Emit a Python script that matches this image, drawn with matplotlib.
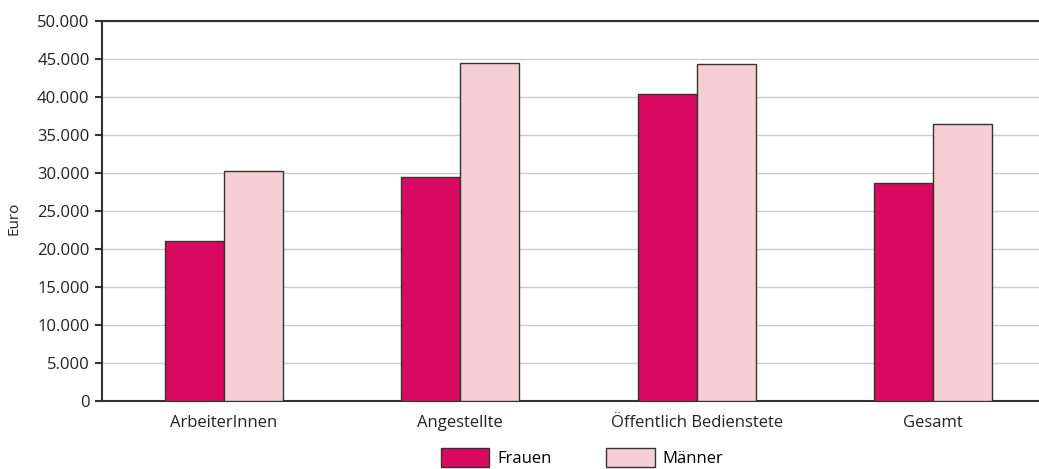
import numpy as np
import matplotlib.pyplot as plt
from matplotlib.ticker import FuncFormatter

# data
kategorien = ['ArbeiterInnen', 'Angestellte', 'Öffentlich Bedienstete', 'Gesamt']
frauen = [21100, 29500, 40400, 28700]
maenner = [30300, 44500, 44400, 36500]
serien = ['Frauen', 'Männer']
farben = ['#d9095f', '#f5cfd4']

plt.rcParams['font.family'] = ['Open Sans', 'DejaVu Sans']

W, H = 1039, 469
fig = plt.figure(figsize=(W / 100, H / 100), dpi=100)
ax = fig.add_axes([102 / W, 68 / H, 973 / W, 380 / H])

x = np.arange(len(kategorien))
bw = 0.25
ax.bar(x - bw / 2, frauen, bw, color=farben[0], edgecolor='#333333', linewidth=1, label=serien[0], zorder=3)
ax.bar(x + bw / 2, maenner, bw, color=farben[1], edgecolor='#333333', linewidth=1, label=serien[1], zorder=3)

ax.set_xlim(-0.516, 3.6)
ax.set_ylim(0, 50000)
ax.set_yticks(np.arange(0, 50001, 5000))
ax.yaxis.set_major_formatter(FuncFormatter(lambda v, p: f'{int(v):,}'.replace(',', '.')))
ax.set_xticks(x)
ax.set_xticklabels(kategorien)
ax.tick_params(axis='x', length=0, pad=10, labelsize=12, colors='#222222')
ax.tick_params(axis='y', length=5, width=1.5, color='#333333', pad=4, labelsize=12, labelcolor='#222222')

ax.grid(axis='y', color='#cccccc', linewidth=1, zorder=0)
for s in ['top', 'left', 'bottom']:
    ax.spines[s].set_color('#333333')
    ax.spines[s].set_linewidth(1.5)
ax.spines['right'].set_visible(False)

ax.set_ylabel('Euro', fontsize=11, color='#222222')
ax.yaxis.set_label_coords(-0.083, 0.48)

fig.legend(loc='upper left', bbox_to_anchor=(441 / W, 1 - 448 / H), ncol=2, frameon=False,
           handlelength=2.9, handleheight=1.4, columnspacing=3.25, handletextpad=0.5,
           fontsize=12, borderpad=0, borderaxespad=0)

fig.savefig('out.png', dpi=100)
